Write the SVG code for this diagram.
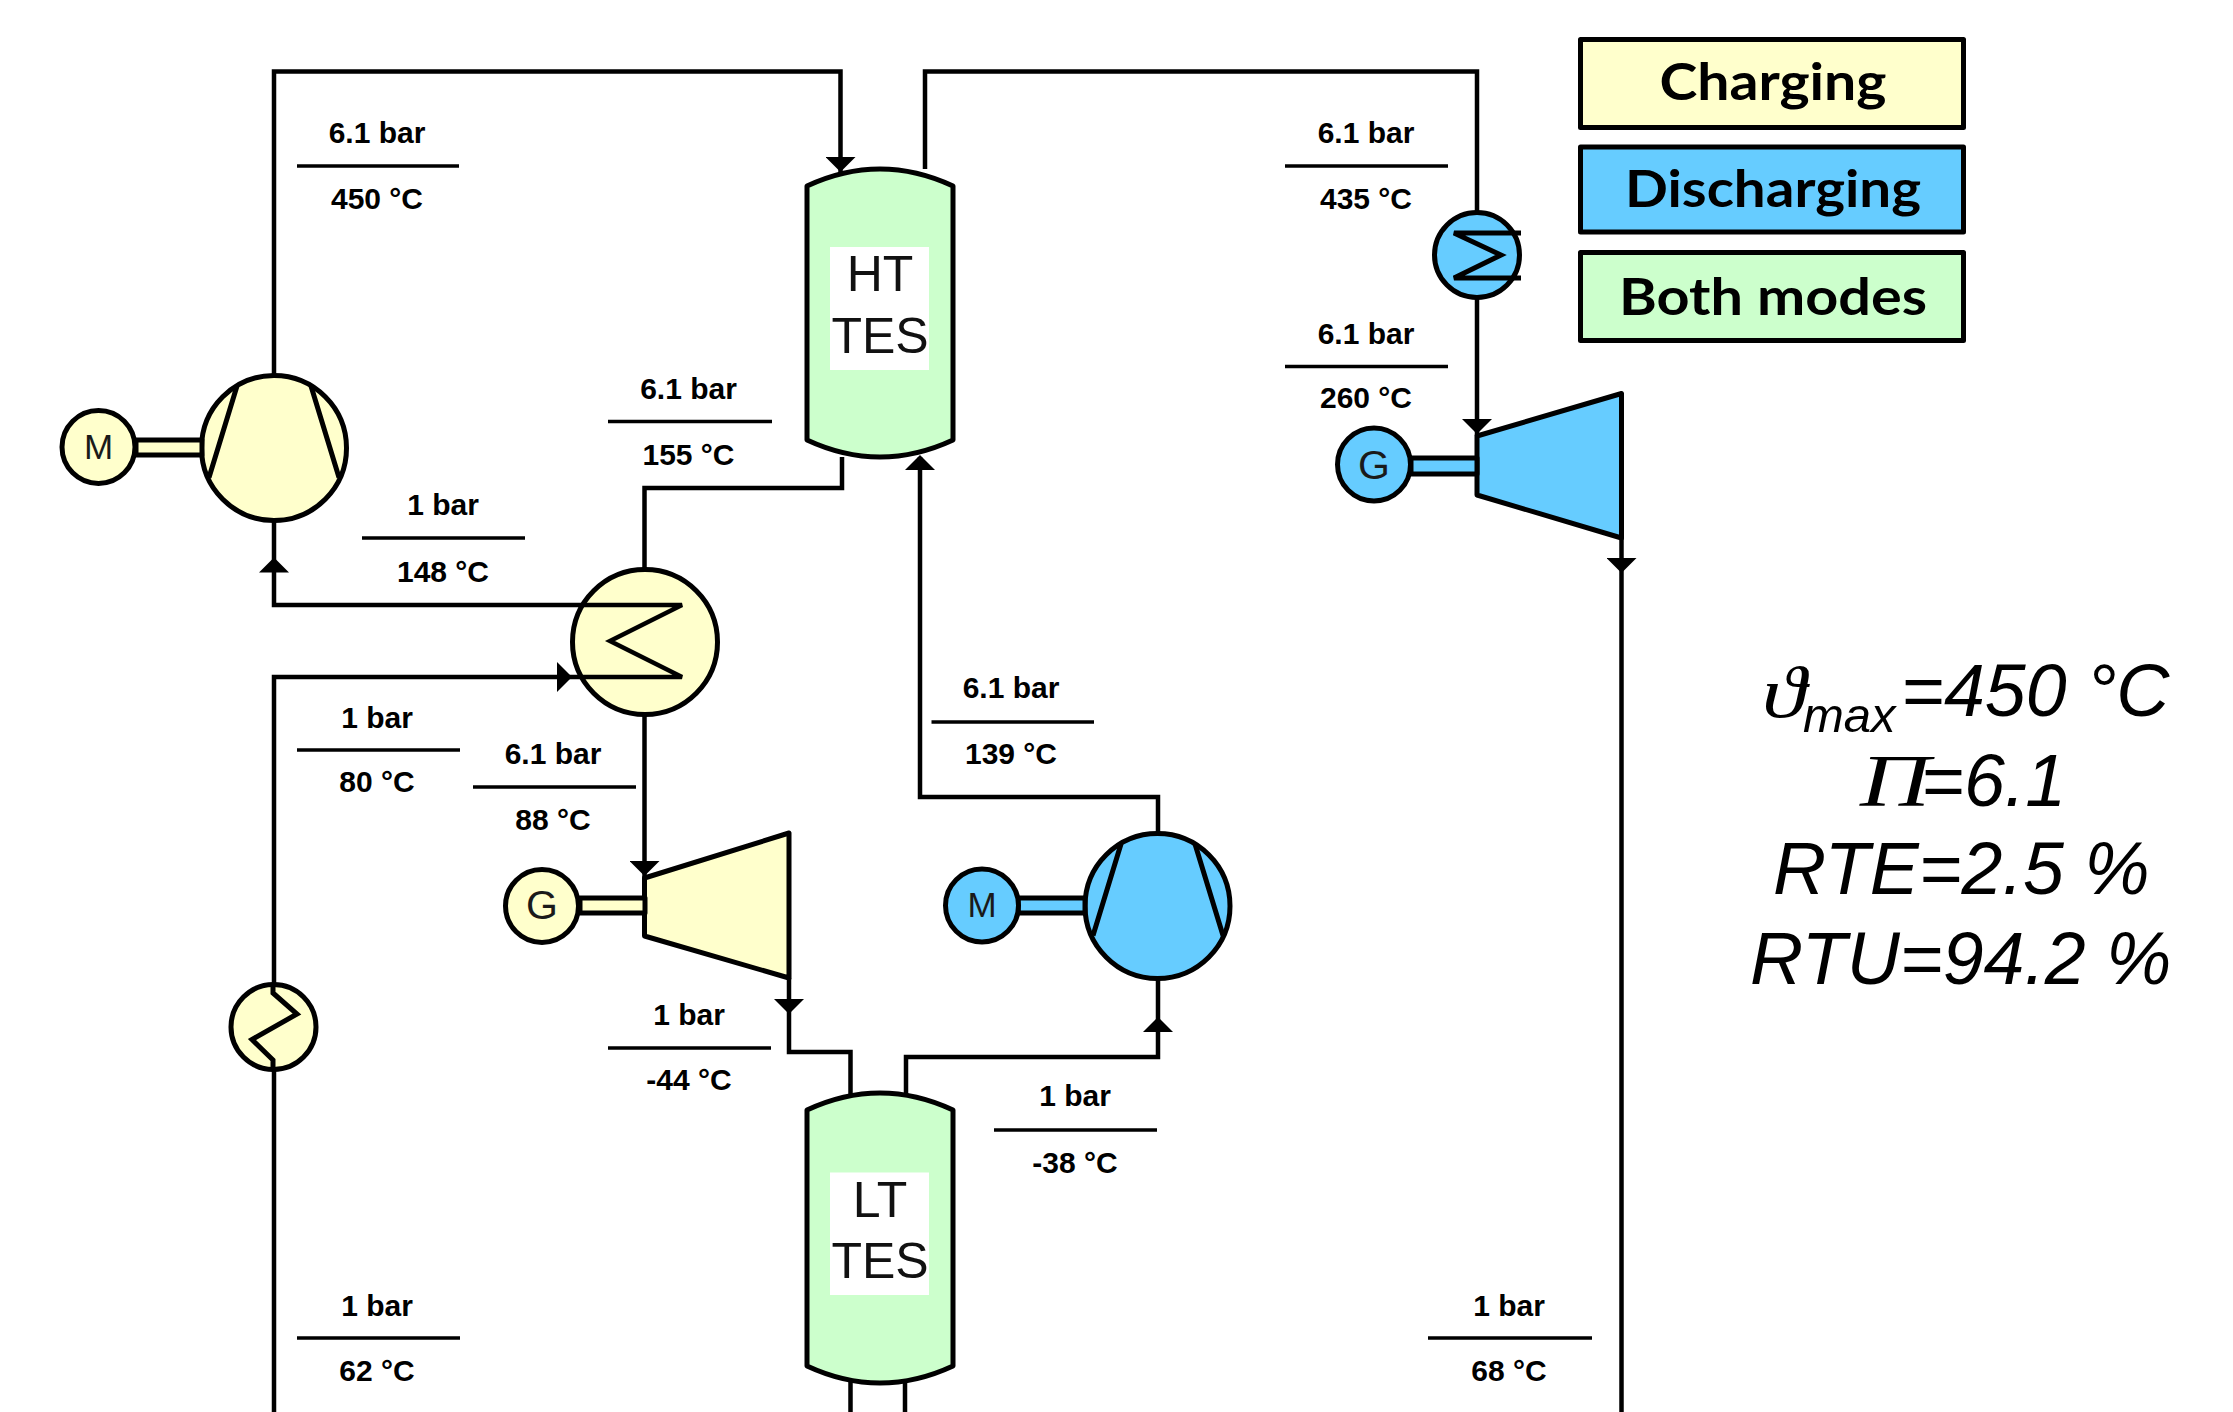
<svg xmlns="http://www.w3.org/2000/svg" width="2233" height="1412" viewBox="0 0 2233 1412">
<style>
.n{stroke:#000;stroke-width:5;stroke-linejoin:round}
.y{fill:#FFFFCC}.b{fill:#66CCFF}.g{fill:#CCFFCC}
.c{fill:none;stroke:#000;stroke-width:4.5;stroke-linejoin:miter}
.in{fill:none;stroke:#000;stroke-width:5}
.r{stroke:#000;stroke-width:3.5}
text{font-family:"Liberation Sans",Arial,sans-serif;fill:#000;text-anchor:middle}
.l{font-size:30px;font-weight:700}
.t{font-size:50px;fill:#111}
.e{font-size:35px;fill:#1a1a1a}
.h{font-size:41px;fill:#1a1a1a}
.k{font-family:Lato,"Noto Sans",sans-serif;font-size:52px;font-weight:700}
.s{font-size:73.5px;font-style:italic;text-anchor:start}
.ser{font-family:"Liberation Serif","Times New Roman",serif}
</style>
<defs>
<marker id="a" markerUnits="userSpaceOnUse" markerWidth="15" markerHeight="30" refX="15" refY="15" orient="auto"><path d="M0,0L15,15L0,30Z" fill="#000"/></marker>
</defs>
<rect width="2233" height="1412" fill="#fff"/>

<g id="comp-charge"><circle class="n y" cx="274" cy="448" r="72.5"/><path class="in" d="M237,386L209,477.5M311,386L339,477.5"/></g>
<g id="motor-charge"><path class="n y" d="M136,440H202V455H136Z"/><circle class="n y" cx="98.500" cy="447" r="36.500"/><text class="e" x="98.500" y="459">M</text></g>
<g id="hx-main"><circle class="n y" cx="645" cy="642" r="72.5"/></g>
<g id="ht-tes"><path class="n g" d="M807,186Q880,152 953,186V440Q880,474 807,440Z"/><rect x="830" y="247" width="99" height="123" fill="#fff"/><text class="t" x="880" y="291">HT</text><text class="t" x="880" y="353">TES</text></g>
<g id="lt-tes"><path class="n g" d="M807,1110Q880,1076 953,1110V1366Q880,1400 807,1366Z"/><rect x="830" y="1172.5" width="99" height="122.5" fill="#fff"/><text class="t" x="880" y="1217">LT</text><text class="t" x="880" y="1278">TES</text></g>
<g id="exp-charge"><path class="n y" d="M644.500,878L789,833V978L644.500,936Z"/></g>
<g id="gen-charge"><path class="n y" d="M580,898H645V913H580Z"/><circle class="n y" cx="542" cy="906" r="36.500"/><text class="h" x="542" y="919">G</text></g>
<g id="comp-discharge"><circle class="n b" cx="1157.500" cy="906" r="72.5"/><path class="in" d="M1121,844L1093,935.500M1195,844L1223,935.500"/></g>
<g id="motor-discharge"><path class="n b" d="M1018,898H1085V913H1018Z"/><circle class="n b" cx="982" cy="905.500" r="36.500"/><text class="e" x="982" y="917">M</text></g>
<g id="cooler"><circle class="n y" cx="273.500" cy="1027" r="42.500"/><path class="in" d="M273,985V993L297,1014L252,1039.500L273,1060V1069"/></g>
<g id="hx-discharge"><circle class="n b" cx="1477" cy="255" r="42.500"/><path class="in" d="M1521,233H1454L1501,255L1454,278H1521"/></g>
<g id="exp-discharge"><path class="n b" d="M1477,436L1621.500,393.500V538L1477,495Z"/></g>
<g id="gen-discharge"><path class="n b" d="M1411,458H1477V474H1411Z"/><circle class="n b" cx="1374" cy="464.500" r="36.500"/><text class="h" x="1374" y="479">G</text></g>

<g id="connectors">
<path class="c" d="M274,375V71.600H840.500V172"/>
<path class="c" d="M925,169V71.600H1477V211"/>
<path class="c" d="M1477,299V436"/>
<path class="c" d="M1621.500,538V1412"/>
<path class="c" d="M274,521V605H682L610,641L682,677H274V985"/>
<path class="c" d="M274,1069V1412"/>
<path class="c" d="M644.500,568V488H842V457"/>
<path class="c" d="M644.500,716V878"/>
<path class="c" d="M920,457V797H1158V833"/>
<path class="c" d="M789,978V1052H850.500V1094"/>
<path class="c" d="M906,1094V1057H1158V979"/>
<path class="c" d="M850.500,1382V1412M905,1382V1412"/>
<g fill="none">
<path d="M840.500,150V172" marker-end="url(#a)"/>
<path d="M274,590V557.500" marker-end="url(#a)"/>
<path d="M550,677H572" marker-end="url(#a)"/>
<path d="M920,480V455" marker-end="url(#a)"/>
<path d="M644.500,850V876" marker-end="url(#a)"/>
<path d="M789,990V1014" marker-end="url(#a)"/>
<path d="M1158,1045V1017" marker-end="url(#a)"/>
<path d="M1477,410V434" marker-end="url(#a)"/>
<path d="M1621.500,550V573" marker-end="url(#a)"/>
</g>
</g>

<g id="labels">
<g><text class="l" x="377" y="143">6.1 bar</text><path class="r" d="M297,166H459"/><text class="l" x="377" y="209">450 °C</text></g>
<g><text class="l" x="688.500" y="399">6.1 bar</text><path class="r" d="M608,421.500H772"/><text class="l" x="688.500" y="465">155 °C</text></g>
<g><text class="l" x="443" y="515">1 bar</text><path class="r" d="M362,538H525"/><text class="l" x="443" y="582">148 °C</text></g>
<g><text class="l" x="377" y="728">1 bar</text><path class="r" d="M297,750H460"/><text class="l" x="377" y="792">80 °C</text></g>
<g><text class="l" x="553" y="764">6.1 bar</text><path class="r" d="M473,787H636"/><text class="l" x="553" y="830">88 °C</text></g>
<g><text class="l" x="1011" y="698">6.1 bar</text><path class="r" d="M931.500,722H1094"/><text class="l" x="1011" y="764">139 °C</text></g>
<g><text class="l" x="689" y="1025">1 bar</text><path class="r" d="M608,1048H771"/><text class="l" x="689" y="1090">-44 °C</text></g>
<g><text class="l" x="1075" y="1106">1 bar</text><path class="r" d="M994,1130H1157"/><text class="l" x="1075" y="1173">-38 °C</text></g>
<g><text class="l" x="377" y="1316">1 bar</text><path class="r" d="M297,1338H460"/><text class="l" x="377" y="1381">62 °C</text></g>
<g><text class="l" x="1509" y="1316">1 bar</text><path class="r" d="M1428,1338H1592"/><text class="l" x="1509" y="1381">68 °C</text></g>
<g><text class="l" x="1366" y="143">6.1 bar</text><path class="r" d="M1285,166H1448"/><text class="l" x="1366" y="209">435 °C</text></g>
<g><text class="l" x="1366" y="344">6.1 bar</text><path class="r" d="M1285,366.500H1448"/><text class="l" x="1366" y="408">260 °C</text></g>
</g>

<g id="legend-charging"><rect class="n y" x="1580.500" y="39.500" width="383" height="88"/><text class="k" x="1773" y="100" textLength="227" lengthAdjust="spacingAndGlyphs">Charging</text></g>
<g id="legend-discharging"><rect class="n b" x="1580.500" y="147" width="383" height="85"/><text class="k" x="1773" y="207" textLength="296" lengthAdjust="spacingAndGlyphs">Discharging</text></g>
<g id="legend-both"><rect class="n g" x="1580.500" y="252.500" width="383" height="88"/><text class="k" x="1773" y="315" textLength="308" lengthAdjust="spacingAndGlyphs">Both modes</text></g>

<g id="results">
<text class="s ser" x="1762" y="717" style="font-size:72px" textLength="44" lengthAdjust="spacingAndGlyphs">ϑ</text><text class="s" x="1803" y="732" style="font-size:49px">max</text><text class="s" x="1901" y="716">=450 °C</text>
<text class="s ser" x="1860" y="806" textLength="70" lengthAdjust="spacingAndGlyphs">Π</text><text class="s" x="1921" y="806">=6.1</text>
<text class="s" x="1773" y="894">RTE=2.5 %</text>
<text class="s" x="1750" y="984">RTU=94.2 %</text>
</g>
</svg>
